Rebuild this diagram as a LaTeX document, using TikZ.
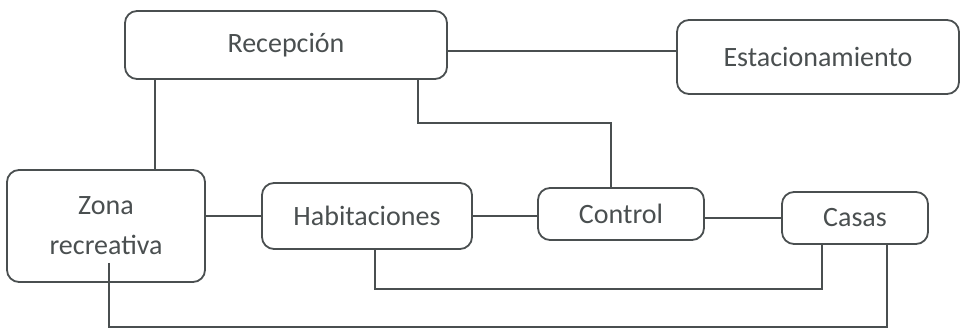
\documentclass[tikz,border=0pt]{standalone}
\usepackage{fontspec}
\setmainfont{Carlito}
\usetikzlibrary{positioning, calc}

\definecolor{inkgray}{HTML}{4A4F50}

\begin{document}
\begin{tikzpicture}[
    x=0.5pt, y=-0.5pt,
    font=\fontsize{14}{17}\selectfont,
    areabox/.style={
        draw=inkgray, line width=0.9pt, rounded corners=6pt,
        text=inkgray, align=center, inner sep=0pt,
        minimum width=#1
    },
    link/.style={
        draw=inkgray, line width=0.9pt
    }
]
\useasboundingbox (0,0) rectangle (962,335);

% --- Top row ---
\node[areabox=161pt, minimum height=34pt] (recep) at (286,45) {Recepción};
\node[areabox=141pt, minimum height=37pt] (estac) at (818,57) {Estacionamiento};

% --- Bottom row ---
\node[areabox=99pt, minimum height=56pt] (zona) at (106,226) {Zona\\[3pt]recreativa};
\node[areabox=105pt, minimum height=33pt] (habit) at (367,216) {Habitaciones};
\node[areabox=83pt, minimum height=26pt] (control) at (621,214) {Control};
\node[areabox=73pt, minimum height=26pt] (casas) at (855,218) {Casas};

% --- Connectors ---
\draw[link] ([yshift=-3pt]recep.east) -- ([yshift=-3pt]recep.east -| estac.west);
\draw[link] ([xshift=15.5pt]recep.south west) -- ([xshift=15.5pt]recep.south west |- zona.north);
\draw[link] ([xshift=66pt]recep.south) -- ++(0,43) -| ([xshift=-5pt]control.north);
\draw[link] (habit.west -| zona.east) -- (habit.west);
\draw[link] (habit.east) -- (habit.east -| control.west);
\draw[link] (casas.west -| control.east) -- (casas.west);

% Lower return lines
\draw[link] ([xshift=4pt]habit.south) -- ++(0,39) -| ([xshift=-16.5pt]casas.south);
\draw[link] ([xshift=1.5pt, yshift=10pt]zona.south) -- ++(0,64) -| ([xshift=16pt]casas.south);

\end{tikzpicture}
\end{document}
